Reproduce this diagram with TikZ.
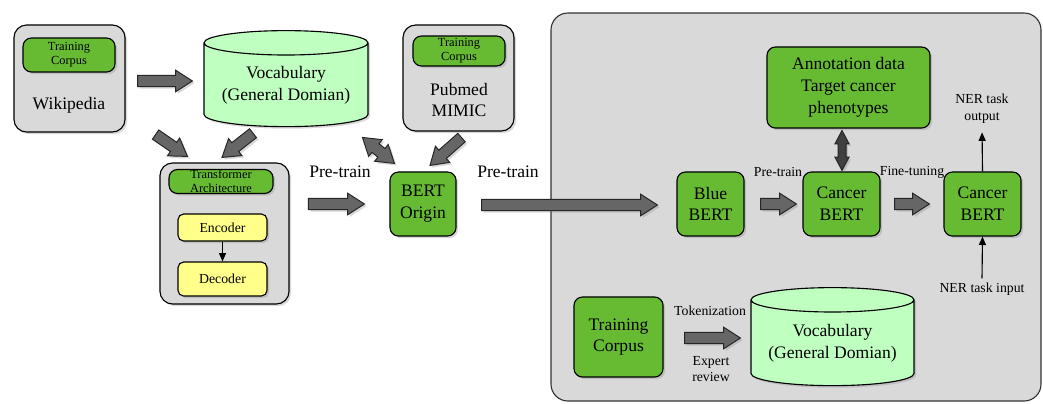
\documentclass[tikz,border=0pt]{standalone}
\usepackage{fontspec}
\setmainfont{Liberation Serif}
\usetikzlibrary{calc}
\usetikzlibrary{shapes.geometric,shadows,arrows.meta}
\definecolor{boxgreen}{HTML}{66BB33}
\definecolor{cylgreen}{HTML}{BFFFC0}
\definecolor{boxgrey}{HTML}{D9D9D9}
\definecolor{boxyellow}{HTML}{FFFF8A}
\colorlet{arrgrey}{black!60}
\newcommand{\fbig}{\fontsize{12.5}{15.5}\selectfont}
\newcommand{\fmid}{\fontsize{9.8}{12}\selectfont}
\newcommand{\fsmall}{\fontsize{8.8}{10}\selectfont}
\def\ShaftW{0.14cm}
\def\HeadW{0.27cm}
\def\HeadL{0.42cm}
\tikzset{
  softshadow/.style={drop shadow={shadow xshift=1.5pt, shadow yshift=-1.5pt, opacity=0.3}},
  greybox/.style={draw, fill=boxgrey, rounded corners=9pt, line width=0.8pt, softshadow},
  greenbox/.style={draw, fill=boxgreen, rounded corners=6pt, line width=0.8pt, softshadow, align=center, inner sep=0pt},
  yellowbox/.style={draw, fill=boxyellow, rounded corners=4pt, line width=0.8pt, softshadow, font=\fmid, inner sep=0pt},
  vocab/.style={cylinder, shape border rotate=90, aspect=0.19, draw, fill=cylgreen, line width=0.8pt, softshadow, align=center, inner sep=0pt, font=\fbig},
  panel/.style={draw=black!80, fill=boxgrey, rounded corners=12pt, line width=0.8pt},
  fatarrow/.style={draw=black!85, fill=arrgrey, line width=0.7pt, line join=miter, softshadow},
  thinarrow/.style={-{Triangle[length=6pt, width=5pt]}, line width=0.8pt},
}
% block arrow: #2 tail, #3 tip
\newcommand{\fatarrow}[3][]{%
  \coordinate (fs) at (#2);
  \coordinate (fe) at (#3);
  \coordinate (fh) at ($(fe)!\HeadL!(fs)$);
  \filldraw[fatarrow, #1] ($(fs)!\ShaftW!90:(fe)$) -- ($(fh)!\ShaftW!90:(fe)$)
    -- ($(fh)!\HeadW!90:(fe)$) -- (fe) -- ($(fh)!\HeadW!-90:(fe)$)
    -- ($(fh)!\ShaftW!-90:(fe)$) -- ($(fs)!\ShaftW!-90:(fe)$) -- cycle;
}
% block arrow with two heads
\newcommand{\dblarrow}[3][]{%
  \coordinate (fs) at (#2);
  \coordinate (fe) at (#3);
  \coordinate (fh) at ($(fe)!\HeadL!(fs)$);
  \coordinate (fg) at ($(fs)!\HeadL!(fe)$);
  \filldraw[fatarrow, #1] (fs) -- ($(fg)!\HeadW!90:(fe)$) -- ($(fg)!\ShaftW!90:(fe)$)
    -- ($(fh)!\ShaftW!90:(fe)$) -- ($(fh)!\HeadW!90:(fe)$) -- (fe)
    -- ($(fh)!\HeadW!-90:(fe)$) -- ($(fh)!\ShaftW!-90:(fe)$)
    -- ($(fg)!\ShaftW!-90:(fe)$) -- ($(fg)!\HeadW!-90:(fe)$) -- cycle;
}

\begin{document}
\begin{tikzpicture}[x=0.025cm, y=-0.025cm]
  \useasboundingbox (0,0) rectangle (1043,403);

  % right panel
  \draw[panel] (551,13) rectangle (1041,401);

  % Wikipedia corpus
  \node[greybox, minimum width=2.775cm, minimum height=2.675cm] (wiki) at (69.5,78.5) {};
  \node[greenbox, font=\fsmall, minimum width=2.3cm, minimum height=0.85cm] (wikitc) at (69,55) {Training\\Corpus};
  \node[font=\fbig] (wikitxt) at (69,105) {Wikipedia};

  % general vocabulary
  \node[vocab, minimum width=4.1cm, minimum height=2.4cm] (voc) at (286,85) {Vocabulary\\(General Domian)};

  % transformer block
  \node[greybox, minimum width=3.225cm, minimum height=3.525cm] (trans) at (224.5,233.5) {};
  \node[greenbox, font=\fsmall, minimum width=2.6cm, minimum height=0.6cm] (transarch) at (221,181.5) {Transformer\\Architecture};
  \node[yellowbox, minimum width=2.225cm, minimum height=0.675cm] (enc) at (222.5,227.5) {Encoder};
  \node[yellowbox, minimum width=2.225cm, minimum height=0.85cm] (dec) at (222.5,279) {Decoder};
  \draw[thinarrow] (enc) -- (dec);

  % BERT origin
  \node[greenbox, font=\fbig, minimum width=1.65cm, minimum height=1.6cm] (bert) at (423,204) {BERT\\Origin};

  % Pubmed corpus
  \node[greybox, minimum width=2.775cm, minimum height=2.65cm] (pubmed) at (458.5,78) {};
  \node[greenbox, font=\fsmall, minimum width=2.3cm, minimum height=0.75cm] (pubtc) at (459,51) {Training\\Corpus};
  \node[font=\fbig, align=center] (pubtxt) at (459,100) {Pubmed\\MIMIC};

  \node[font=\fbig] (pt1) at (340,172) {Pre-train};
  \node[font=\fbig] (pt2) at (508,172) {Pre-train};

  % right side
  \node[greenbox, font=\fbig, minimum width=4.075cm, minimum height=2.025cm] (anno) at (848.5,87.5) {Annotation data\\Target cancer\\phenotypes};
  \node[greenbox, font=\fbig, minimum width=1.675cm, minimum height=1.6cm] (blue) at (710.5,204) {Blue\\BERT};
  \node[greenbox, font=\fbig, minimum width=1.925cm, minimum height=1.6cm] (cb1) at (841.5,204) {Cancer\\BERT};
  \node[greenbox, font=\fbig, minimum width=1.925cm, minimum height=1.6cm] (cb2) at (982.5,204) {Cancer\\BERT};
  \node[font=\fmid] (pt3) at (778,172) {Pre-train};
  \node[font=\fmid] (ft) at (912,172) {Fine-tuning};
  \node[font=\fmid, align=center, inner sep=3pt] (nerout) at (982,109) {NER task\\output};
  \node[font=\fmid, inner sep=3pt] (nerin) at (982,289) {NER task input};
  \draw[thinarrow, shorten >=3pt] (cb2.north) -- (nerout.south);
  \draw[thinarrow] (nerin.north) -- (cb2.south);

  \node[greenbox, font=\fbig, minimum width=2.225cm, minimum height=2cm] (tc) at (618.5,337) {Training\\Corpus};
  \node[vocab, minimum width=4.075cm, minimum height=2.45cm] (voc2) at (832.5,343) {Vocabulary\\(General Domian)};
  \node[font=\fmid] (tok) at (710,311) {Tokenization};
  \node[font=\fmid, align=center] (exp) at (711,369) {Expert\\review};

  % block arrows
  \fatarrow{$(wiki.east)+(12,2.5)$}{$(voc.west)+(-11,-4)$}
  \fatarrow{$(wiki.south east)+(30,2)$}{$(trans.north west)+(28,-6)$}
  \fatarrow{$(voc.south)+(-33,6)$}{$(trans.north)+(-2.5,-5)$}
  \fatarrow{$(bert.west)+(-81,0)$}{$(bert.west)+(-25,0)$}
  \dblarrow{$(bert.north west)+(-27,-34)$}{$(bert.north west)+(5,-8)$}
  \fatarrow{$(pubmed.south)+(3,6)$}{$(bert.north)+(7,-6)$}
  \fatarrow{$(bert.east)+(25,1)$}{$(blue.west)+(-19,1)$}
  \fatarrow{$(blue.east)+(16,0)$}{$(cb1.west)+(-6,0)$}
  \fatarrow{$(cb1.east)+(14,0)$}{$(cb2.west)+(-14,0)$}
  \fatarrow{$(tc.east)+(21,1)$}{$(voc2.west)+(-10,-5)$}
  {\def\ShaftW{0.1cm}\def\HeadW{0.175cm}\def\HeadL{0.33cm}
   \dblarrow[fill=black!75]{$(anno.south)+(-6.5,2)$}{$(cb1.north)+(0.5,-1)$}}
\end{tikzpicture}
\end{document}
